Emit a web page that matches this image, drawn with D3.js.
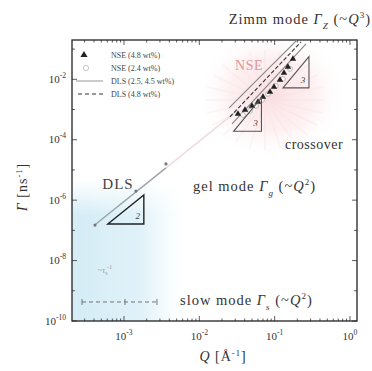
<!DOCTYPE html>
<html>
<head>
<meta charset="utf-8">
<script src="https://cdn.jsdelivr.net/npm/d3@7"></script>
<style>
  body { margin: 0; background: #fff; }
  text { font-family: "Liberation Serif", "DejaVu Serif", serif; }
</style>
</head>
<body>
<script>
// Relaxation rates versus scattering vector (log-log)

// NSE, 4.8 wt% (filled triangles)
const nseHighQ = [0.0326, 0.0404, 0.050, 0.0601, 0.070, 0.0867, 0.098, 0.1177, 0.133, 0.150, 0.175];
const nseHighG = [7.15e-4, 9.7e-4, 1.31e-3, 1.79e-3, 2.61e-3, 3.83e-3, 5.6e-3, 9.5e-3, 0.0163, 0.0258, 0.047];
// NSE, 2.4 wt% (open circles)
const nseLowQ = [0.038, 0.0471, 0.0566, 0.068, 0.0817, 0.104, 0.129, 0.160];
const nseLowG = [6.6e-4, 9.0e-4, 1.31e-3, 2.08e-3, 3.29e-3, 6.04e-3, 0.0103, 0.0221];
// DLS gel mode points
const dlsQ = [4.12e-4, 1.44e-3, 3.61e-3];
const dlsG = [1.5e-7, 2.0e-6, 1.58e-5];
// gel mode diffusion line Γg = D·Q²
const gelD = 0.9;
const gelQRange = [4.12e-4, 3.61e-3];
const gelExtQRange = [3.61e-3, 0.031];
// Zimm-regime lines (endpoints)
const zimmSolidQ = [[0.0248, 0.198], [0.0272, 0.261]];
const zimmSolidG = [[1.13e-3, 0.198], [3.33e-4, 0.149]];
const zimmDashQ = [0.0255, 0.224];
const zimmDashG = [5.7e-4, 0.173];
// slow mode points
const slowQ = [2.77e-4, 1.03e-3, 2.74e-3];
const slowG = [4.26e-10, 4.26e-10, 4.26e-10];
// slope triangles: Q at left corner, Γ along the base, width in decades of Q, slope
const slopeTriQ = [0.129, 0.0285, 6.1e-4];
const slopeTriG = [5.2e-3, 1.9e-4, 1.63e-7];
const slopeTriW = [0.345, 0.37, 0.478];
const slopeTriN = ["3", "3", "2"];
// axis ticks
const xTickVals = [1e-3, 1e-2, 1e-1, 1];
const xTickExp = ["-3", "-2", "-1", "0"];
const yTickVals = [1e-10, 1e-8, 1e-6, 1e-4, 1e-2];
const yTickExp = ["-10", "-8", "-6", "-4", "-2"];
const legendLabels = ["NSE (4.8 wt%)", "NSE (2.4 wt%)", "DLS (2.5, 4.5 wt%)", "DLS (4.8 wt%)"];

const W = 372, H = 371;
const m = { l: 72, r: 357, t: 40, b: 321 };

const svg = d3.select("body").append("svg").attr("width", W).attr("height", H);
const x = d3.scaleLog().domain([2.04e-4, 1.24]).range([m.l, m.r]);
const y = d3.scaleLog().domain([1e-10, 0.2]).range([m.b, m.t]);

const defs = svg.append("defs");
defs.append("clipPath").attr("id", "plotclip").append("rect")
  .attr("x", m.l).attr("y", m.t).attr("width", m.r - m.l).attr("height", m.b - m.t);

// blue DLS region
const gB = defs.append("linearGradient").attr("id", "blueH").attr("x1", 0).attr("x2", 1).attr("y1", 0).attr("y2", 0);
gB.append("stop").attr("offset", "0%").attr("stop-color", "#d4ecf6").attr("stop-opacity", 1);
gB.append("stop").attr("offset", "60%").attr("stop-color", "#ddf0f8").attr("stop-opacity", 0.9);
gB.append("stop").attr("offset", "100%").attr("stop-color", "#eef8fb").attr("stop-opacity", 0);
const gBV = defs.append("linearGradient").attr("id", "blueV").attr("x1", 0).attr("x2", 0).attr("y1", 0).attr("y2", 1);
gBV.append("stop").attr("offset", "0%").attr("stop-color", "#fff").attr("stop-opacity", 0);
gBV.append("stop").attr("offset", "25%").attr("stop-color", "#fff").attr("stop-opacity", 1);
gBV.append("stop").attr("offset", "100%").attr("stop-color", "#fff").attr("stop-opacity", 1);
const mask = defs.append("mask").attr("id", "blueMask");
mask.append("rect").attr("x", m.l).attr("y", 180).attr("width", 115).attr("height", m.b - 180).attr("fill", "url(#blueV)");

// pink NSE region
const gP = defs.append("radialGradient").attr("id", "pinkR").attr("cx", "50%").attr("cy", "50%").attr("r", "50%");
gP.append("stop").attr("offset", "0%").attr("stop-color", "#fadadd").attr("stop-opacity", 0.85);
gP.append("stop").attr("offset", "55%").attr("stop-color", "#fce6e8").attr("stop-opacity", 0.6);
gP.append("stop").attr("offset", "100%").attr("stop-color", "#fff").attr("stop-opacity", 0);

const bg = svg.append("g").attr("clip-path", "url(#plotclip)");
bg.append("rect").attr("x", m.l).attr("y", 180).attr("width", 115).attr("height", m.b - 180)
  .attr("fill", "url(#blueH)").attr("mask", "url(#blueMask)");
bg.append("ellipse").attr("cx", 272).attr("cy", 94).attr("rx", 76).attr("ry", 66)
  .attr("fill", "url(#pinkR)");
// faint rays in the NSE region
const rayCx = 265, rayCy = 100;
d3.range(0, 360, 15).forEach(a => {
  const r = a * Math.PI / 180;
  bg.append("line").attr("x1", rayCx).attr("y1", rayCy)
    .attr("x2", rayCx + 60 * Math.cos(r)).attr("y2", rayCy + 50 * Math.sin(r))
    .attr("stroke", "#f8dde0").attr("stroke-width", 2).attr("opacity", 0.25);
});

// ticks on all four sides, pointing inward
const axisG = svg.append("g").attr("stroke", "#333").attr("stroke-width", 0.8);
d3.range(-4, 1).forEach(e => {
  for (let k = 1; k <= 9; k++) {
    const v = k * Math.pow(10, e);
    if (v < x.domain()[0] || v > x.domain()[1]) continue;
    const len = k === 1 ? 5 : 2.5;
    axisG.append("line").attr("x1", x(v)).attr("x2", x(v)).attr("y1", m.b).attr("y2", m.b - len);
    axisG.append("line").attr("x1", x(v)).attr("x2", x(v)).attr("y1", m.t).attr("y2", m.t + len);
  }
});
d3.range(-10, 0).forEach(e => {
  const v = Math.pow(10, e);
  if (v > y.domain()[1]) return;
  const len = (e % 2 === 0) ? 5 : 3;
  axisG.append("line").attr("y1", y(v)).attr("y2", y(v)).attr("x1", m.l).attr("x2", m.l + len);
  axisG.append("line").attr("y1", y(v)).attr("y2", y(v)).attr("x1", m.r).attr("x2", m.r - len);
});

// frame
svg.append("rect").attr("x", m.l).attr("y", m.t).attr("width", m.r - m.l).attr("height", m.b - m.t)
  .attr("fill", "none").attr("stroke", "#222").attr("stroke-width", 1.3);

// tick labels
xTickVals.forEach((v, i) => {
  const t = svg.append("text").attr("x", x(v)).attr("y", 340).attr("text-anchor", "middle")
    .attr("font-size", 11).attr("fill", "#333");
  t.append("tspan").text("10");
  t.append("tspan").attr("dy", -5).attr("font-size", 7.5).text(xTickExp[i]);
});
yTickVals.forEach((v, i) => {
  const t = svg.append("text").attr("x", 66).attr("y", y(v) + 3.5).attr("text-anchor", "end")
    .attr("font-size", 11).attr("fill", "#333");
  t.append("tspan").text("10");
  t.append("tspan").attr("dy", -5).attr("font-size", 7.5).text(yTickExp[i]);
});

// axis titles
const xt = svg.append("text").attr("x", 223).attr("y", 361).attr("text-anchor", "middle")
  .attr("font-size", 14).attr("letter-spacing", 1).attr("fill", "#333");
xt.append("tspan").attr("font-style", "italic").text("Q");
xt.append("tspan").text(" [Å");
xt.append("tspan").attr("dy", -5).attr("font-size", 8.5).text("-1");
xt.append("tspan").attr("dy", 5).text("]");
const yt = svg.append("text").attr("transform", "translate(27,187) rotate(-90)").attr("text-anchor", "middle")
  .attr("font-size", 14).attr("letter-spacing", 1).attr("fill", "#333");
yt.append("tspan").attr("font-style", "italic").text("Γ");
yt.append("tspan").text(" [ns");
yt.append("tspan").attr("dy", -5).attr("font-size", 8.5).text("-1");
yt.append("tspan").attr("dy", 5).text("]");

const plot = svg.append("g").attr("clip-path", "url(#plotclip)");
const line = d3.line().x(d => x(d[0])).y(d => y(d[1]));

// gel mode: DLS fit and its faint extension toward the NSE range
const gelPts = q => [[q[0], gelD * q[0] * q[0]], [q[1], gelD * q[1] * q[1]]];
plot.append("path").attr("d", line(gelPts(gelExtQRange))).attr("stroke", "#f0dcde")
  .attr("stroke-width", 1.6).attr("fill", "none");
plot.append("path").attr("d", line(gelPts(gelQRange))).attr("stroke", "#9aa4a8")
  .attr("stroke-width", 1.4).attr("fill", "none");
plot.selectAll(".dls").data(dlsQ).join("circle").attr("cx", d => x(d)).attr("cy", (d, i) => y(dlsG[i]))
  .attr("r", 1.6).attr("fill", "#777");

// Zimm-regime lines
zimmSolidQ.forEach((q, i) => {
  plot.append("path").attr("d", line([[q[0], zimmSolidG[i][0]], [q[1], zimmSolidG[i][1]]]))
    .attr("stroke", "#8a8a8a").attr("stroke-width", 1.2).attr("fill", "none");
});
plot.append("path").attr("d", line([[zimmDashQ[0], zimmDashG[0]], [zimmDashQ[1], zimmDashG[1]]]))
  .attr("stroke", "#333").attr("stroke-width", 1.1).attr("stroke-dasharray", "4,2").attr("fill", "none");

// NSE points
plot.selectAll(".nseLow").data(nseLowQ).join("circle").attr("cx", d => x(d)).attr("cy", (d, i) => y(nseLowG[i]))
  .attr("r", 2.4).attr("fill", "#fff").attr("stroke", "#aaa").attr("stroke-width", 0.8);
const tri = d3.symbol().type(d3.symbolTriangle).size(18);
plot.selectAll(".nseHigh").data(nseHighQ).join("path").attr("d", tri)
  .attr("transform", (d, i) => `translate(${x(d)},${y(nseHighG[i])})`).attr("fill", "#222");

// slow mode points with dashed link
plot.append("path").attr("d", line(slowQ.map((q, i) => [q, slowG[i]])))
  .attr("stroke", "#666").attr("stroke-width", 0.9).attr("stroke-dasharray", "4,3").attr("fill", "none");
slowQ.forEach((q, i) => {
  plot.append("line").attr("x1", x(q)).attr("x2", x(q)).attr("y1", y(slowG[i]) - 3).attr("y2", y(slowG[i]) + 3)
    .attr("stroke", "#666").attr("stroke-width", 0.9);
});

// slope triangles
slopeTriQ.forEach((q0, i) => {
  const q1 = q0 * Math.pow(10, slopeTriW[i]);
  const g0 = slopeTriG[i];
  const g1 = g0 * Math.pow(10, slopeTriW[i] * (+slopeTriN[i]));
  const pts = [[q0, g0], [q1, g0], [q1, g1]];
  plot.append("path").attr("d", line(pts) + "Z").attr("fill", "none")
    .attr("stroke", i === 2 ? "#222" : "#555").attr("stroke-width", i === 2 ? 1.4 : 1.1);
  plot.append("text").attr("x", x(q1) - 6).attr("y", y(g0) - 5).attr("text-anchor", "middle")
    .attr("font-size", 9).attr("font-style", "italic").attr("fill", "#444").text(slopeTriN[i]);
});

// region and mode annotations
svg.append("text").attr("x", 249).attr("y", 70).attr("text-anchor", "middle").attr("font-size", 14)
  .attr("letter-spacing", 0.5).attr("fill", "#e3959a").text("NSE");
svg.append("text").attr("x", 118).attr("y", 189).attr("text-anchor", "middle").attr("font-size", 15)
  .attr("letter-spacing", 1).attr("fill", "#444").text("DLS");
svg.append("text").attr("x", 314).attr("y", 149).attr("text-anchor", "middle").attr("font-size", 14)
  .attr("letter-spacing", 0.5).attr("fill", "#333").text("crossover");

function modeLabel(xp, yp, name, sub, pow, anchor) {
  const t = svg.append("text").attr("x", xp).attr("y", yp).attr("font-size", 14.5).attr("fill", "#333")
    .attr("letter-spacing", 1).attr("text-anchor", anchor || "start");
  t.append("tspan").text(name + " ");
  t.append("tspan").attr("font-style", "italic").text("Γ");
  t.append("tspan").attr("dy", 5).attr("font-size", 9).attr("font-style", "italic").text(sub);
  t.append("tspan").attr("dy", -5).text(" (~");
  t.append("tspan").attr("font-style", "italic").text("Q");
  t.append("tspan").attr("dy", -6).attr("font-size", 9).text(pow);
  t.append("tspan").attr("dy", 6).text(")");
}
modeLabel(371, 24, "Zimm mode", "Z", "3", "end");
modeLabel(193, 191, "gel mode", "g", "2");
modeLabel(180, 305, "slow mode", "s", "2");

const tau = svg.append("text").attr("x", 98).attr("y", 273).attr("font-size", 8).attr("fill", "#9a9a9a");
tau.append("tspan").text("~");
tau.append("tspan").attr("font-style", "italic").text("τ");
tau.append("tspan").attr("dy", 2).attr("font-size", 5.5).text("s");
tau.append("tspan").attr("dy", -6).attr("font-size", 5.5).text("-1");

// legend
const lg = svg.append("g");
const rows = [55, 68, 81, 94];
lg.append("path").attr("d", d3.symbol().type(d3.symbolTriangle).size(22))
  .attr("transform", `translate(84,${rows[0]})`).attr("fill", "#222");
lg.append("circle").attr("cx", 86).attr("cy", rows[1]).attr("r", 2.6).attr("fill", "#fff")
  .attr("stroke", "#bbb").attr("stroke-width", 0.8);
lg.append("line").attr("x1", 76).attr("x2", 103).attr("y1", rows[2]).attr("y2", rows[2])
  .attr("stroke", "#aaa").attr("stroke-width", 1.2);
lg.append("line").attr("x1", 78).attr("x2", 103).attr("y1", rows[3]).attr("y2", rows[3])
  .attr("stroke", "#333").attr("stroke-width", 1).attr("stroke-dasharray", "4,3");
legendLabels.forEach((s, i) => {
  lg.append("text").attr("x", 111).attr("y", rows[i] + 3).attr("font-size", 8).attr("fill", "#444").text(s);
});
</script>
</body>
</html>
